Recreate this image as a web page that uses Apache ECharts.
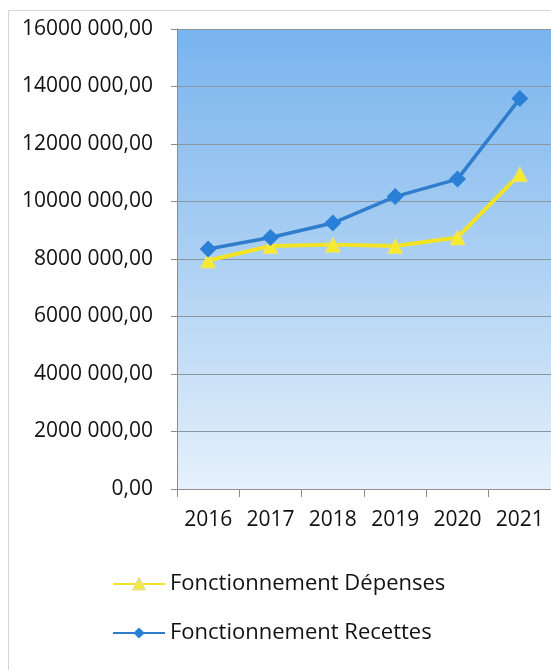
<!DOCTYPE html>
<html>
<head>
<meta charset="utf-8">
<script src="https://cdn.jsdelivr.net/npm/echarts@6/dist/echarts.min.js"></script>
<style>
html, body { margin: 0; padding: 0; background: #fff; }
#main { width: 551px; height: 670px; }
</style>
</head>
<body>
<div id="main"></div>
<script>
const years = ['2016', '2017', '2018', '2019', '2020', '2021'];
const depenses = [7950000, 8450000, 8500000, 8450000, 8750000, 10950000];
const recettes = [8350000, 8750000, 9250000, 10170000, 10780000, 13580000];
const yTickLabels = ['0,00', '2000 000,00', '4000 000,00', '6000 000,00', '8000 000,00',
  '10000 000,00', '12000 000,00', '14000 000,00', '16000 000,00'];

const myChart = echarts.init(document.getElementById('main'));
const font = 'Open Sans';

const option = {
  backgroundColor: '#ffffff',
  animation: false,
  graphic: [{
    type: 'rect',
    shape: { x: 8.5, y: 10.5, width: 600, height: 700 },
    style: { fill: 'none', stroke: '#d4d4d4', lineWidth: 1 },
    z: -10
  }],
  legend: {
    orient: 'vertical',
    left: 112,
    top: 573,
    padding: 0,
    itemWidth: 52,
    itemHeight: 14,
    itemGap: 27,
    textStyle: { fontFamily: font, fontSize: 22, color: '#111' },
    data: ['Fonctionnement Dépenses', 'Fonctionnement Recettes']
  },
  grid: {
    left: 177,
    top: 29,
    right: -4,
    bottom: 181,
    show: true,
    borderWidth: 0,
    backgroundColor: new echarts.graphic.LinearGradient(0, 0, 0, 1, [
      { offset: 0, color: '#78b4ee' },
      { offset: 0.5, color: '#acd0f3' },
      { offset: 1, color: '#e6f1fb' }
    ])
  },
  xAxis: {
    type: 'category',
    data: years,
    boundaryGap: true,
    axisLine: { lineStyle: { color: '#8c8c8c', width: 1 } },
    axisTick: { show: true, interval: 0, length: 8, lineStyle: { color: '#8c8c8c' } },
    axisLabel: {
      interval: 0, hideOverlap: false,
      fontFamily: font, fontSize: 21, color: '#111', margin: 21
    }
  },
  yAxis: {
    type: 'value',
    min: 0,
    max: 16000000,
    interval: 2000000,
    axisLine: { show: true, lineStyle: { color: '#8c8c8c', width: 1 } },
    axisTick: { show: true, length: 6, lineStyle: { color: '#8c8c8c' } },
    axisLabel: {
      fontFamily: font, fontSize: 21, color: '#111', margin: 24,
      formatter: v => yTickLabels[Math.round(v / 2000000)]
    },
    splitLine: { lineStyle: { color: '#8a96a2', width: 1.2 } }
  },
  series: [
    {
      name: 'Fonctionnement Dépenses',
      type: 'line',
      data: depenses,
      symbol: 'triangle',
      symbolSize: 15,
      lineStyle: { color: '#f2e424', width: 4 },
      itemStyle: { color: '#f5ea2c', borderColor: '#e8e08a', borderWidth: 1 },
      z: 2
    },
    {
      name: 'Fonctionnement Recettes',
      type: 'line',
      data: recettes,
      symbol: 'diamond',
      symbolSize: 17,
      lineStyle: { color: '#2f7dcc', width: 3.5 },
      itemStyle: { color: '#2a7fd6' },
      z: 3
    }
  ]
};

myChart.setOption(option);
</script>
</body>
</html>
